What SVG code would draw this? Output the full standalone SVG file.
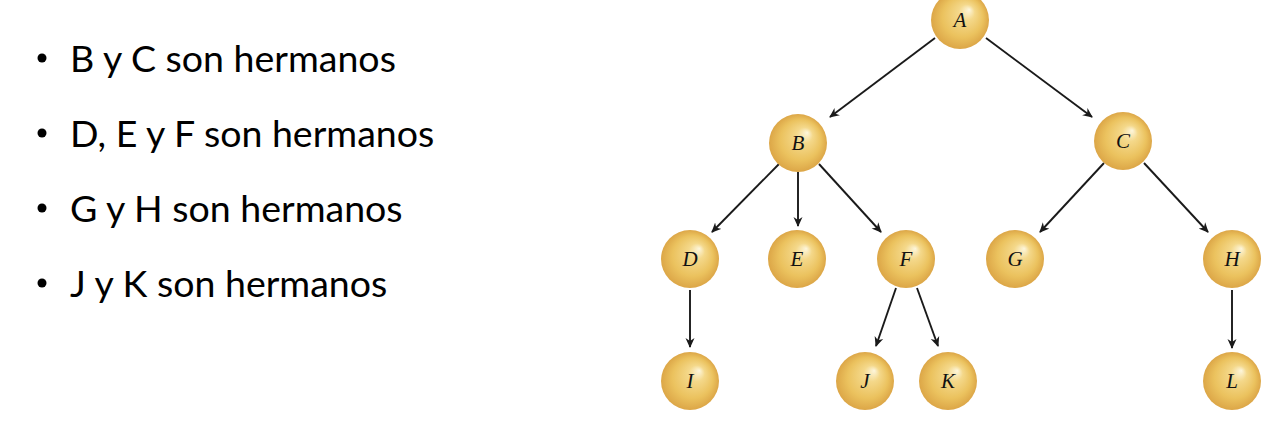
<svg xmlns="http://www.w3.org/2000/svg" width="1274" height="426" viewBox="0 0 1274 426">
<style>
.bt{font-family:Lato,"Open Sans","Liberation Sans",sans-serif;font-size:37.5px;fill:#000}
.lbl{font-family:"Liberation Serif","DejaVu Serif",serif;font-style:italic;font-size:21px;fill:#111;text-anchor:middle;dominant-baseline:central}
.ball{fill:url(#g)}
.edge{stroke:#1a1a1a;stroke-width:1.9;fill:none;marker-end:url(#ah)}
</style>
<defs>
<radialGradient id="g" cx="0.5" cy="0.5" r="0.5" fx="0.66" fy="0.32">
<stop offset="0" stop-color="#fdf6dc"/>
<stop offset="0.28" stop-color="#f4d88a"/>
<stop offset="0.7" stop-color="#ebc25e"/>
<stop offset="1" stop-color="#dca647"/>
</radialGradient>
<marker id="ah" viewBox="0 0 10 10" refX="9" refY="5" markerWidth="10" markerHeight="10" markerUnits="userSpaceOnUse" orient="auto">
<path d="M0,0.5 L10,5 L0,9.5 L3,5 z" fill="#1a1a1a"/>
</marker>
</defs>
<rect width="1274" height="426" fill="#fff"/>
<g id="bullets">
<circle cx="42" cy="58" r="4.5" fill="#000"/>
<text class="bt" x="70" y="72">B y C son hermanos</text>
<circle cx="42" cy="133" r="4.5" fill="#000"/>
<text class="bt" x="70" y="147">D, E y F son hermanos</text>
<circle cx="42" cy="208" r="4.5" fill="#000"/>
<text class="bt" x="70" y="222">G y H son hermanos</text>
<circle cx="42" cy="283" r="4.5" fill="#000"/>
<text class="bt" x="70" y="297">J y K son hermanos</text>
</g>
<g id="connectors">
<line class="edge" x1="935" y1="38" x2="830" y2="117"/>
<line class="edge" x1="986" y1="38" x2="1092" y2="117"/>
<line class="edge" x1="779" y1="164" x2="712" y2="232"/>
<line class="edge" x1="798" y1="172" x2="798" y2="226"/>
<line class="edge" x1="819" y1="164" x2="881" y2="232"/>
<line class="edge" x1="1104" y1="163" x2="1040" y2="232"/>
<line class="edge" x1="1144" y1="163" x2="1208" y2="232"/>
<line class="edge" x1="690" y1="290" x2="690" y2="347"/>
<line class="edge" x1="896" y1="288" x2="876" y2="346"/>
<line class="edge" x1="917" y1="288" x2="938" y2="346"/>
<line class="edge" x1="1232" y1="290" x2="1232" y2="348"/>
</g>
<g id="A"><circle class="ball" cx="960" cy="20" r="29"/><text class="lbl" x="960" y="20">A</text></g>
<g id="B"><circle class="ball" cx="798" cy="143" r="29"/><text class="lbl" x="798" y="143">B</text></g>
<g id="C"><circle class="ball" cx="1123" cy="141" r="29"/><text class="lbl" x="1123" y="141">C</text></g>
<g id="D"><circle class="ball" cx="690" cy="259" r="29"/><text class="lbl" x="690" y="259">D</text></g>
<g id="E"><circle class="ball" cx="797" cy="259" r="29"/><text class="lbl" x="797" y="259">E</text></g>
<g id="F"><circle class="ball" cx="906" cy="259" r="29"/><text class="lbl" x="906" y="259">F</text></g>
<g id="G"><circle class="ball" cx="1015" cy="259" r="29"/><text class="lbl" x="1015" y="259">G</text></g>
<g id="H"><circle class="ball" cx="1232" cy="259" r="29"/><text class="lbl" x="1232" y="259">H</text></g>
<g id="I"><circle class="ball" cx="690" cy="381" r="29"/><text class="lbl" x="690" y="381">I</text></g>
<g id="J"><circle class="ball" cx="865" cy="381" r="29"/><text class="lbl" x="865" y="381">J</text></g>
<g id="K"><circle class="ball" cx="948" cy="381" r="29"/><text class="lbl" x="948" y="381">K</text></g>
<g id="L"><circle class="ball" cx="1232" cy="381" r="29"/><text class="lbl" x="1232" y="381">L</text></g>
</svg>
